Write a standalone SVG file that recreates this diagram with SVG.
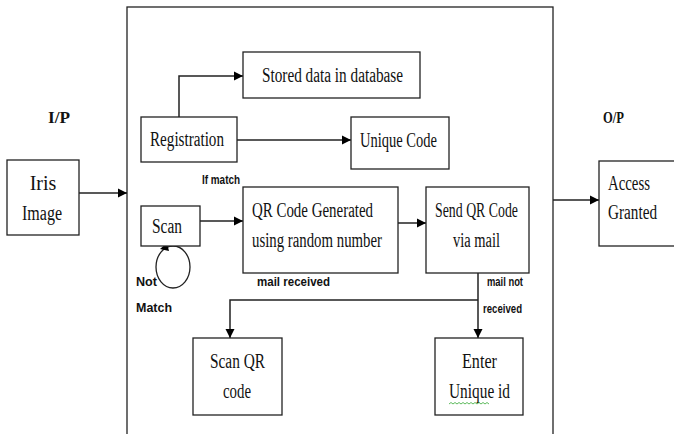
<svg xmlns="http://www.w3.org/2000/svg" width="674" height="434" viewBox="0 0 674 434">
<defs>
<marker id="ah" markerWidth="10" markerHeight="10" refX="9" refY="5" orient="auto" markerUnits="userSpaceOnUse">
<path d="M0,0.5 L9,5 L0,9.5 z" fill="#000"/>
</marker>
</defs>
<style>
.box{fill:#fff;stroke:#222;stroke-width:1.3}
.ln{fill:none;stroke:#222;stroke-width:1.5}
.t{font-family:"Liberation Serif",serif;font-size:20px;fill:#111}
.tc{text-anchor:middle}
.b{font-family:"Liberation Sans",sans-serif;font-size:13px;font-weight:bold;fill:#111}
.bs{font-family:"Liberation Serif",serif;font-size:17px;font-weight:bold;fill:#111}
</style>
<rect width="674" height="434" fill="#fff"/>
<rect id="frame" x="127" y="7" width="426" height="440" fill="none" stroke="#222" stroke-width="1.3"/>
<text class="bs" x="48" y="123" textLength="22" lengthAdjust="spacingAndGlyphs">I/P</text>
<text class="bs" x="603" y="123" textLength="21" lengthAdjust="spacingAndGlyphs">O/P</text>
<g id="connectors">
<path class="ln" d="M79,193 H127" marker-end="url(#ah)"/>
<path class="ln" d="M553,200 H599" marker-end="url(#ah)"/>
<path class="ln" d="M179,117 V76 H243" marker-end="url(#ah)"/>
<path class="ln" d="M237,140 H351" marker-end="url(#ah)"/>
<path class="ln" d="M200,221 H243" marker-end="url(#ah)"/>
<path class="ln" d="M398,223 H426" marker-end="url(#ah)"/>
<path class="ln" d="M478,273 V338" marker-end="url(#ah)"/>
<path class="ln" d="M478,300 H230 V338" marker-end="url(#ah)"/>
<ellipse cx="173" cy="267" rx="17" ry="21" fill="none" stroke="#222" stroke-width="1.3"/>
<path d="M160,249 L167,243 L169,251 z" fill="#000"/>
</g>
<g id="iris"><rect class="box" x="7" y="160" width="72" height="75"/>
<text class="t tc" x="43" y="190">Iris</text>
<text class="t tc" x="42" y="220" textLength="40" lengthAdjust="spacingAndGlyphs">Image</text></g>
<g id="access"><rect class="box" x="599" y="161" width="80" height="85"/>
<text class="t" x="608" y="190" textLength="42" lengthAdjust="spacingAndGlyphs">Access</text>
<text class="t" x="608" y="219" textLength="49" lengthAdjust="spacingAndGlyphs">Granted</text></g>
<g id="stored"><rect class="box" x="243" y="52" width="177" height="46"/>
<text class="t" x="262" y="82" textLength="141" lengthAdjust="spacingAndGlyphs">Stored data in database</text></g>
<g id="registration"><rect class="box" x="141" y="117" width="96" height="45"/>
<text class="t" x="150" y="146" textLength="74" lengthAdjust="spacingAndGlyphs">Registration</text></g>
<g id="unique"><rect class="box" x="351" y="117" width="98" height="52"/>
<text class="t" x="360" y="147" textLength="77" lengthAdjust="spacingAndGlyphs">Unique Code</text></g>
<g id="scan"><rect class="box" x="141" y="206" width="59" height="40"/>
<text class="t" x="152" y="233" textLength="30" lengthAdjust="spacingAndGlyphs">Scan</text></g>
<g id="qr"><rect class="box" x="243" y="187" width="155" height="86"/>
<text class="t" x="252" y="217" textLength="121" lengthAdjust="spacingAndGlyphs">QR Code Generated</text>
<text class="t" x="252" y="247" textLength="130" lengthAdjust="spacingAndGlyphs">using random number</text></g>
<g id="send"><rect class="box" x="426" y="187" width="103" height="86"/>
<text class="t" x="435" y="217" textLength="83" lengthAdjust="spacingAndGlyphs">Send QR Code</text>
<text class="t" x="453" y="247" textLength="47" lengthAdjust="spacingAndGlyphs">via mail</text></g>
<g id="scanqr"><rect class="box" x="193" y="338" width="89" height="77"/>
<text class="t" x="210" y="368" textLength="55" lengthAdjust="spacingAndGlyphs">Scan QR</text>
<text class="t" x="223" y="398" textLength="28" lengthAdjust="spacingAndGlyphs">code</text></g>
<g id="enter"><rect class="box" x="435" y="338" width="88" height="77"/>
<text class="t" x="462" y="368" textLength="35" lengthAdjust="spacingAndGlyphs">Enter</text>
<text class="t" x="449" y="398" textLength="61" lengthAdjust="spacingAndGlyphs">Unique id</text>
<path d="M449,404 l2,-1.5 l2,1.5 l2,-1.5 l2,1.5 l2,-1.5 l2,1.5 l2,-1.5 l2,1.5 l2,-1.5 l2,1.5 l2,-1.5 l2,1.5 l2,-1.5 l2,1.5 l2,-1.5 l2,1.5 l2,-1.5 l2,1.5 l2,-1.5 l2,1.5" fill="none" stroke="#3a3" stroke-width="0.8"/></g>
<g id="labels">
<text class="b" x="202" y="184" textLength="38" lengthAdjust="spacingAndGlyphs">If match</text>
<text class="b" x="136" y="286" textLength="21" lengthAdjust="spacingAndGlyphs">Not</text>
<text class="b" x="136" y="312" textLength="36" lengthAdjust="spacingAndGlyphs">Match</text>
<text class="b" x="257" y="286" textLength="73" lengthAdjust="spacingAndGlyphs">mail received</text>
<text class="b" x="487" y="286" textLength="36" lengthAdjust="spacingAndGlyphs">mail not</text>
<text class="b" x="483" y="313" textLength="39" lengthAdjust="spacingAndGlyphs">received</text>
</g>
</svg>
